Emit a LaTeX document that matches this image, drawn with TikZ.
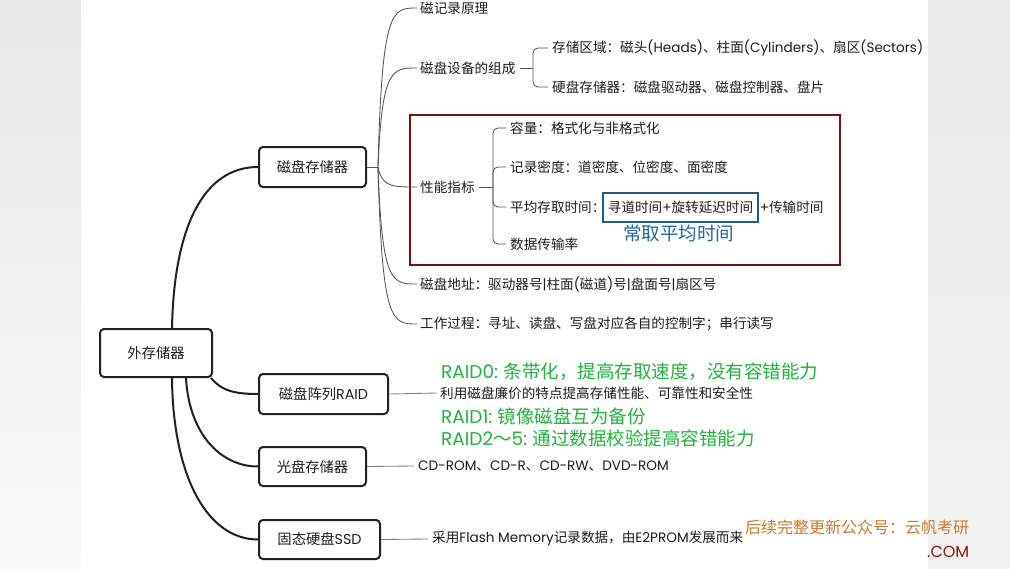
\documentclass[tikz,border=0pt]{standalone}
\usepackage{fontspec}
\setmainfont{Noto Sans CJK SC}
\newfontfamily\latf{Poppins}
\newcommand{\la}[1]{{\latf #1}}
\usetikzlibrary{calc}
\definecolor{txt}{HTML}{1E1E1E}
\definecolor{boxline}{HTML}{222222}
\definecolor{conn}{HTML}{555555}
\definecolor{darkred}{HTML}{7A1010}
\definecolor{bluec}{HTML}{1D5B8C}
\definecolor{notec}{HTML}{2468A0}
\definecolor{greenc}{HTML}{22B33E}
\definecolor{orangec}{HTML}{C87A32}
\definecolor{comred}{HTML}{8A1818}
\tikzset{
  boxn/.style={draw=boxline, line width=2pt, rounded corners=4pt, fill=white,
    font=\fontsize{14.3}{16}\selectfont, text=txt, inner sep=0pt},
  tx/.style={anchor=west, inner sep=0pt, font=\fontsize{13.6}{16}\selectfont, text=txt},
  green/.style={anchor=west, inner sep=0pt, font=\fontsize{18.5}{20}\selectfont, text=greenc},
  mainconn/.style={draw=boxline, line width=2pt},
  subconn/.style={draw=conn, line width=0.85pt},
  brk/.style={draw=conn, line width=0.85pt, rounded corners=5pt},
}
\begin{document}
\begin{tikzpicture}[x=1pt,y=-1pt]
\useasboundingbox (0,0) rectangle (1010,568);
% background
\fill[white!99!gray] (0,0) rectangle (1010,568);
\fill[top color=black!9, bottom color=black!2] (0,0) rectangle (81,568);
\fill[top color=black!8, bottom color=black!5] (928,0) rectangle (1010,568);

% main boxes
\node[boxn, minimum width=112pt, minimum height=48pt] (root) at (156,353) {外存储器};
\node[boxn, minimum width=107pt, minimum height=40pt] (disk) at (312.5,167) {磁盘存储器};
\node[boxn, minimum width=129pt, minimum height=40pt] (raid) at (323.5,394) {磁盘阵列\la{RAID}};
\node[boxn, minimum width=107pt, minimum height=39pt] (optical) at (312.5,466.5) {光盘存储器};
\node[boxn, minimum width=121pt, minimum height=39pt] (ssd) at (319.5,539.5) {固态硬盘\la{SSD}};

% root connectors
\draw[mainconn] ($(root.north)+(16,0)$) .. controls ($(root.north)+(18,-100)$) and ($(disk.west)+(-55,0)$) .. (disk.west);
\draw[mainconn] ($(root.south east)+(-2,0)$) .. controls ($(root.south east)+(8,12)$) and ($(raid.west)+(-25,0)$) .. (raid.west);
\draw[mainconn] ($(root.south)+(30,0)$) .. controls ($(root.south)+(33,55)$) and ($(optical.west)+(-38,0)$) .. (optical.west);
\draw[mainconn] ($(root.south)+(16,0)$) .. controls ($(root.south)+(17,100)$) and ($(ssd.west)+(-50,0)$) .. (ssd.west);

% disk children
\node[tx] (t1) at (420,8) {磁记录原理};
\node[tx] (t2) at (420,68) {磁盘设备的组成};
\node[tx] (t21) at (552,48) {存储区域：磁头\la{(Heads)}、柱面\la{(Cylinders)}、扇区\la{(Sectors)}};
\node[tx] (t22) at (552,87) {硬盘存储器：磁盘驱动器、磁盘控制器、盘片};
\node[tx] (t3) at (420,187) {性能指标};
\node[tx] (t31) at (510,128) {容量：格式化与非格式化};
\node[tx] (t32) at (510,167) {记录密度：道密度、位密度、面密度};
\node[tx] (t33) at (510,207) {平均存取时间：};
\node[draw=bluec, line width=1.8pt, anchor=west, minimum height=29pt, inner xsep=5pt, inner ysep=0pt,
      font=\fontsize{13.6}{16}\selectfont, text=txt] (t33b) at (602,207.5) {寻道时间\la{+}旋转延迟时间};
\node[tx] (t33c) at ($(t33b.east)+(0.5,0)$) {\la{+}传输时间};
\node[anchor=west, inner sep=0pt, font=\fontsize{18.5}{20}\selectfont, text=notec] (note) at (623,233) {常取平均时间};
\node[tx] (t34) at (510,244) {数据传输率};
\node[tx] (t4) at (420,284) {磁盘地址：驱动器号\la{|}柱面\la{(}磁道\la{)}号\la{|}盘面号\la{|}扇区号};
\node[tx] (t5) at (420,324) {工作过程：寻址、读盘、写盘对应各自的控制字；串行读写};

\draw[darkred, line width=2pt] (410,115) rectangle (840,265);

\coordinate (hub) at (378,167);
\draw[subconn] (disk.east) -- (hub);
\foreach \n in {t1,t2,t3,t4,t5}{
  \draw[subconn] (hub) .. controls ($(hub|-\n.west)+(4,0)$) and ($(hub|-\n.west)+(14,0)$) .. ($(\n.west)+(-3,0)$);
}
% brackets
\coordinate (b2) at (533,68);
\draw[subconn] ($(t2.east)+(4,0)$) -- (b2);
\foreach \n in {t21,t22}{ \draw[brk] (b2) |- ($(\n.west)+(-4,0)$); }
\coordinate (b3) at (493,187);
\draw[subconn] ($(t3.east)+(4,0)$) -- (b3);
\foreach \n in {t31,t32,t33,t34}{ \draw[brk] (b3) |- ($(\n.west)+(-4,0)$); }

% RAID
\node[green] (r0) at (441,372) {\la{RAID0:} 条带化，提高存取速度，没有容错能力};
\node[tx] (rt) at (440,393) {利用磁盘廉价的特点提高存储性能、可靠性和安全性};
\node[green] (r1) at (441,416) {\la{RAID1:} 镜像磁盘互为备份};
\node[green] (r2) at (441,438) {\la{RAID2}～\la{5:} 通过数据校验提高容错能力};
\draw[subconn, draw=black!50] (raid.east) -- ($(rt.west)+(-3,0)$);

% optical
\node[tx] (o1) at (418,466) {\la{CD-ROM}、\la{CD-R}、\la{CD-RW}、\la{DVD-ROM}};
\draw[subconn, draw=black!50] (optical.east) -- ($(o1.west)+(-4,0)$);

% ssd
\node[tx] (s1) at (432,539) {采用\la{Flash Memory}记录数据，由\la{E2PROM}发展而来};
\draw[subconn, draw=black!50] (ssd.east) -- ($(s1.west)+(-4,0)$);

% watermark
\node[anchor=west, inner sep=0pt, font=\fontsize{16}{18}\selectfont, text=orangec] (wm) at (745,527) {后续完整更新公众号：云帆考研};
\node[anchor=west, inner sep=0pt, font=\fontsize{16}{18}\latf, text=comred] (wm2) at (927,552) {.COM};
\end{tikzpicture}
\end{document}
